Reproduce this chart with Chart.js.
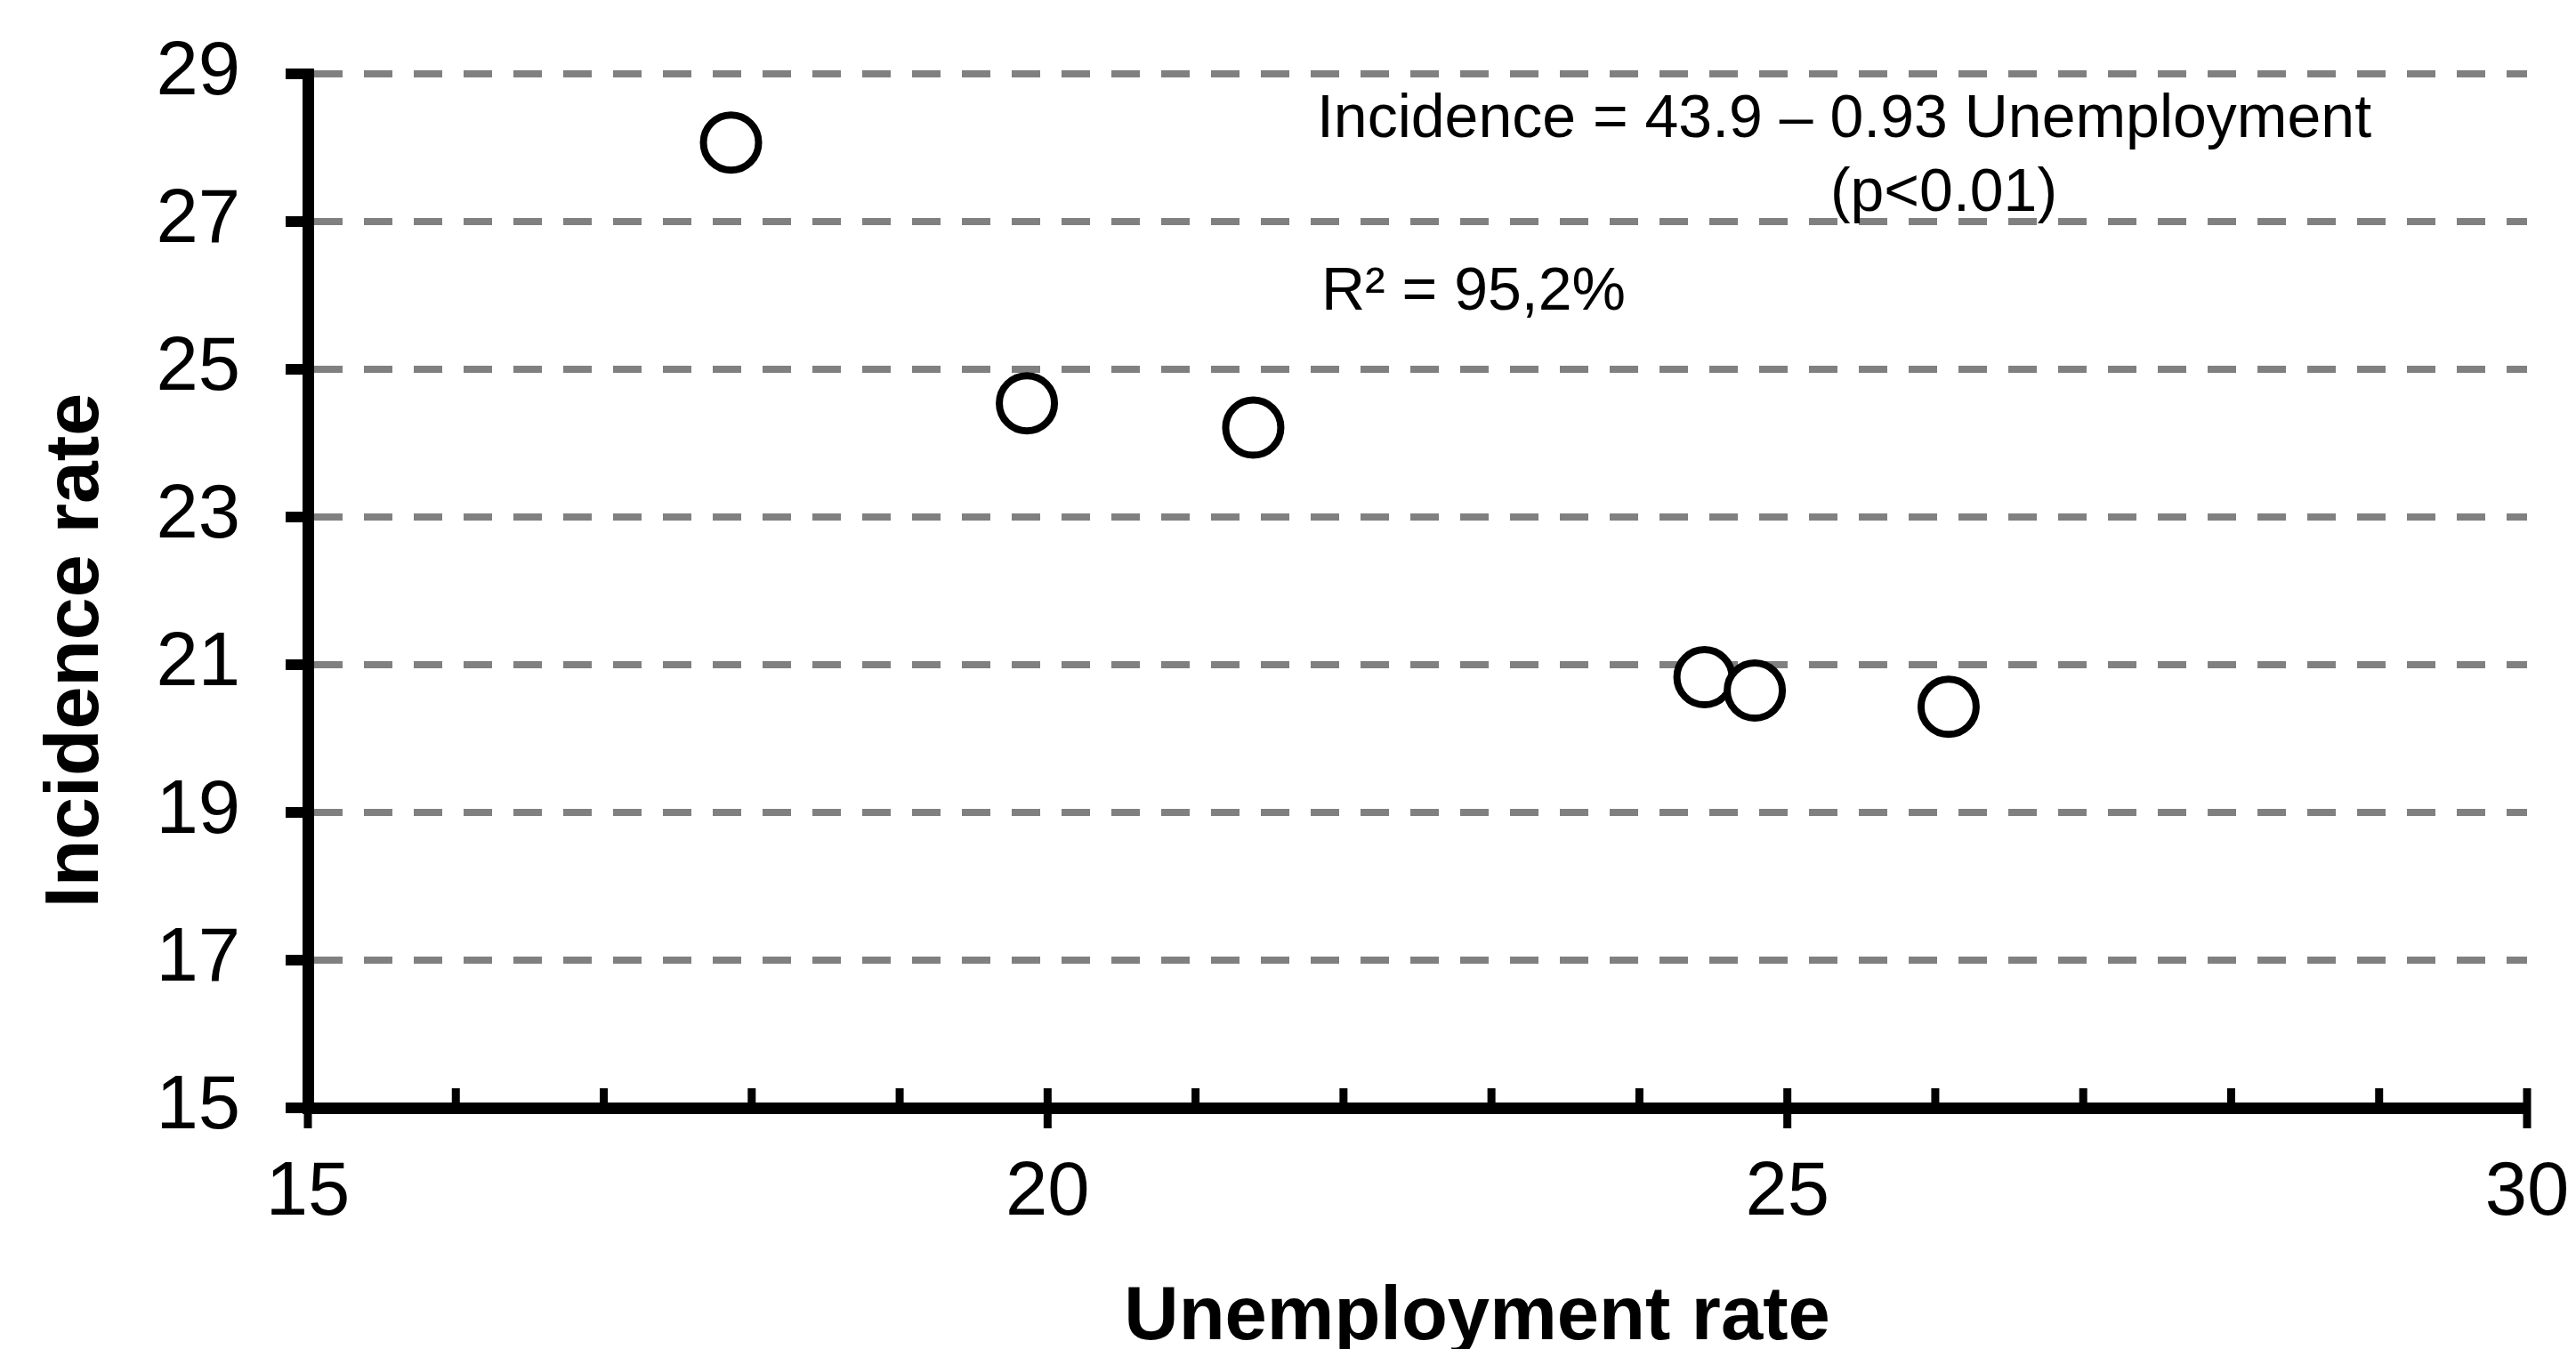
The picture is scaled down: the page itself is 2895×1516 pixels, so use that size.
<!DOCTYPE html>
<html>
<head>
<meta charset="utf-8">
<script src="https://cdn.jsdelivr.net/npm/chart.js@4/dist/chart.umd.min.js"></script>
<style>
  html, body { margin: 0; padding: 0; background: #fff; }
  #wrap { width: 2895px; height: 1516px; }
</style>
</head>
<body>
<div id="wrap"><canvas id="myChart" width="2895" height="1516"></canvas></div>
<script>
// Datos
const unemployment = [17.86, 19.86, 21.39, 24.44, 24.78, 26.09];
const incidence = [28.07, 24.54, 24.21, 20.83, 20.65, 20.43];
const xTickValues = [15, 20, 25, 30];
const xMinorTicks = [16, 17, 18, 19, 21, 22, 23, 24, 26, 27, 28, 29];
const yTickValues = [15, 17, 19, 21, 23, 25, 27, 29];

const xTitle = 'Unemployment rate';
const yTitle = 'Incidence rate';
const eqLine1 = 'Incidence = 43.9 \u2013 0.93 Unemployment';
const eqLine2 = '(p<0.01)';
const r2Text = 'R\u00b2 = 95,2%';

const FONT = '"Liberation Sans", Arial, sans-serif';

// Marcas de los ejes, titulos y textos de la regresion
const extrasPlugin = {
    id: 'extras',
    afterDraw(chart) {
        const ctx = chart.ctx;
        const xs = chart.scales.x;
        const ys = chart.scales.y;
        const area = chart.chartArea;
        ctx.save();
        ctx.strokeStyle = '#000';

        // ticks eje Y (hacia afuera)
        ctx.lineWidth = 12;
        yTickValues.forEach(v => {
            const py = ys.getPixelForValue(v);
            ctx.beginPath();
            ctx.moveTo(area.left - 25, py);
            ctx.lineTo(area.left, py);
            ctx.stroke();
        });

        // ticks eje X
        ctx.lineWidth = 9;
        xMinorTicks.forEach(v => {
            const px = xs.getPixelForValue(v);
            ctx.beginPath();
            ctx.moveTo(px, area.bottom - 22);
            ctx.lineTo(px, area.bottom);
            ctx.stroke();
        });
        xTickValues.forEach(v => {
            const px = xs.getPixelForValue(v);
            ctx.beginPath();
            ctx.moveTo(px, area.bottom - 22);
            ctx.lineTo(px, area.bottom + 23);
            ctx.stroke();
        });

        // textos de la regresion
        ctx.fillStyle = '#000';
        ctx.font = '68px ' + FONT;
        ctx.textAlign = 'left';
        ctx.textBaseline = 'alphabetic';
        ctx.fillText(eqLine1, xs.getPixelForValue(21.82), ys.getPixelForValue(28.14));
        ctx.fillText(eqLine2, xs.getPixelForValue(25.29), ys.getPixelForValue(27.14));
        ctx.fillText(r2Text, xs.getPixelForValue(21.85), ys.getPixelForValue(25.81));

        // titulos de los ejes
        ctx.font = 'bold 85px ' + FONT;
        ctx.textAlign = 'center';
        ctx.fillText(xTitle, 1660, 1505);
        ctx.translate(110, 731);
        ctx.rotate(-Math.PI / 2);
        ctx.font = 'bold 86px ' + FONT;
        ctx.fillText(yTitle, 0, 0);
        ctx.restore();
    }
};

const ctxChart = document.getElementById('myChart').getContext('2d');
const myChart = new Chart(ctxChart, {
    type: 'scatter',
    data: {
        datasets: [{
            data: unemployment.map((u, i) => ({ x: u, y: incidence[i] })),
            pointStyle: 'circle',
            pointRadius: 31,
            pointHoverRadius: 31,
            borderWidth: 8,
            borderColor: '#000',
            backgroundColor: '#fff'
        }]
    },
    options: {
        responsive: false,
        animation: false,
        devicePixelRatio: 1,
        layout: { autoPadding: false, padding: { left: 0, top: 83, right: 55, bottom: 0 } },
        plugins: {
            legend: { display: false },
            tooltip: { enabled: false }
        },
        scales: {
            x: {
                type: 'linear',
                min: 15,
                max: 30,
                ticks: {
                    stepSize: 5,
                    padding: 46,
                    color: '#000',
                    font: { family: FONT, size: 85 },
                    maxRotation: 0
                },
                grid: { display: false, drawTicks: false },
                border: { display: true, color: '#000', width: 13 },
                afterFit(scale) {
                    scale.height = 271;
                    scale.paddingLeft = 0;
                    scale.paddingRight = 0;
                }
            },
            y: {
                type: 'linear',
                min: 15,
                max: 29,
                ticks: {
                    stepSize: 2,
                    padding: 76,
                    color: '#000',
                    font: { family: FONT, size: 85 }
                },
                grid: {
                    drawTicks: false,
                    lineWidth: 8,
                    color: c => (c.tick && c.tick.value === 15) ? 'rgba(0,0,0,0)' : '#808080'
                },
                border: { display: true, color: '#000', width: 13, dash: [32, 24] },
                afterFit(scale) {
                    scale.width = 346;
                    scale.paddingTop = 0;
                    scale.paddingBottom = 0;
                }
            }
        }
    },
    plugins: [extrasPlugin]
});
</script>
</body>
</html>
